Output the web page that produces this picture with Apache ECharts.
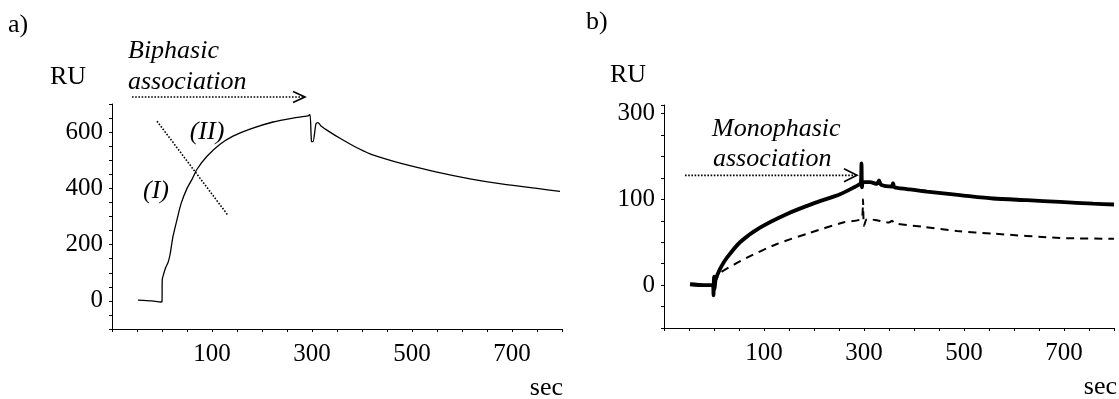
<!DOCTYPE html>
<html><head><meta charset="utf-8">
<script src="https://cdn.jsdelivr.net/npm/echarts@6/dist/echarts.min.js"></script>
<style>html,body{margin:0;padding:0;background:#fff}#c{width:1119px;height:399px}</style>
</head><body><div id="c"></div>
<script>
// ---- Panel a) biphasic association ----
const timeA = [-48, -20, -2, 0, 0.5, 4, 8, 12, 16, 22, 30, 38, 50, 60, 70, 90, 116, 142, 176, 222, 262, 292, 296, 299, 302, 308, 312, 318, 336, 356, 386, 416, 450, 482, 550, 616, 682, 750, 796];
const ruA   = [3, 0, -4, -3, 75, 100, 121, 136, 164, 229, 289, 345, 400, 432, 468, 514, 557, 586, 611, 636, 650, 658, 662, 567, 566, 630, 634, 622, 600, 578, 548, 523, 503, 487, 458, 434, 415, 400, 389];
// ---- Panel b) monophasic association ----
const timeBsolid = [-48, -20, -2, -1, 0, 1, 3, 6, 14, 26, 52, 92, 146, 198, 252, 280, 292, 294, 295, 296, 298, 312, 326, 330, 334, 356, 358, 361, 386, 426, 492, 558, 626, 692, 758, 800];
const ruBsolid   = [1, 0, 0, -12, 10, -5, 6, 11, 21, 32, 50, 67, 83, 95, 106, 114, 118, 121, 142, 114, 120, 120, 118, 122, 117, 115, 119, 114, 112, 109, 105, 101, 99, 97, 95, 94];
const timeBdash = [0, 4, 12, 40, 66, 126, 192, 258, 296, 298, 300, 306, 322, 350, 356, 362, 418, 486, 558, 692, 800];
const ruBdash   = [2, 6, 14, 24, 32, 48, 61, 73, 78, 100, 69, 77, 76, 73, 75, 72, 68, 63, 60, 55, 54];
// ---- tick labels ----
const xTickLabels = [100, 300, 500, 700];
const yTickLabelsA = [0, 200, 400, 600];
const yTickValuesB = [0, 100, 200];
const yTickTextB = ['0', '100', '300'];

const FONT = '"Liberation Serif", "Times New Roman", serif';
const zip = (a, b) => a.map((v, i) => [v, b[i]]);

function xAxisCfg(gi) {
  return {
    type: 'value', gridIndex: gi, min: -100, max: 800, interval: 50,
    axisLine: { show: true, onZero: false, lineStyle: { color: '#000', width: 1 } },
    axisTick: { show: true, length: 3, lineStyle: { color: '#000', width: 1 } },
    axisLabel: { formatter: v => xTickLabels.includes(v) ? String(v) : '', color: '#000', fontFamily: FONT, fontSize: 25, margin: 13 },
    splitLine: { show: false }
  };
}

const option = {
  animation: false,
  backgroundColor: '#fff',
  grid: [
    { left: 112, top: 104, width: 450, height: 225, outerBoundsMode: 'none' },
    { left: 664, top: 105, width: 450, height: 223, outerBoundsMode: 'none' }
  ],
  xAxis: [xAxisCfg(0), xAxisCfg(1)],
  yAxis: [
    {
      type: 'value', gridIndex: 0, min: -100, max: 700, interval: 50,
      axisLine: { show: true, onZero: false, lineStyle: { color: '#000', width: 1 } },
      axisTick: { show: true, length: 3, lineStyle: { color: '#000', width: 1 } },
      axisLabel: { formatter: v => yTickLabelsA.includes(v) ? String(v) : '', color: '#000', fontFamily: FONT, fontSize: 25, margin: 9 },
      splitLine: { show: false }
    },
    {
      type: 'value', gridIndex: 1, min: -50, max: 210, interval: 25,
      axisLine: { show: true, onZero: false, lineStyle: { color: '#000', width: 1 } },
      axisTick: { show: true, length: 3, lineStyle: { color: '#000', width: 1 } },
      axisLabel: { formatter: v => { const i = yTickValuesB.indexOf(v); return i >= 0 ? yTickTextB[i] : ''; }, color: '#000', fontFamily: FONT, fontSize: 25, margin: 9 },
      splitLine: { show: false }
    }
  ],
  series: [
    { type: 'line', xAxisIndex: 0, yAxisIndex: 0, data: zip(timeA, ruA), showSymbol: false, smooth: 0.25,
      lineStyle: { color: '#000', width: 1.3 } },
    { type: 'line', xAxisIndex: 1, yAxisIndex: 1, data: zip(timeBdash, ruBdash), showSymbol: false, smooth: 0.25,
      lineStyle: { color: '#000', width: 2, type: [8, 6] } },
    { type: 'line', xAxisIndex: 1, yAxisIndex: 1, data: zip(timeBsolid, ruBsolid), showSymbol: false, smooth: 0.25,
      lineStyle: { color: '#000', width: 3.8 } }
  ]
};

const chart = echarts.init(document.getElementById('c'));
chart.setOption(option);

const pA = p => chart.convertToPixel({ gridIndex: 0 }, p);
const pB = p => chart.convertToPixel({ gridIndex: 1 }, p);

function dotted(a, b) {
  return { type: 'polyline', silent: true, shape: { points: [a, b] },
    style: { stroke: '#000', lineWidth: 1.6, lineDash: [1.6, 1.6], fill: null } };
}
function chevron(tip, w, h) {
  return { type: 'polyline', silent: true, shape: { points: [[tip[0] - w, tip[1] - h], tip, [tip[0] - w, tip[1] + h]] },
    style: { stroke: '#000', lineWidth: 1.6, fill: null } };
}
function txt(t, x, y, italic, align) {
  return { type: 'text', silent: true, x: x, y: y,
    style: { text: t, font: (italic ? 'italic ' : '') + '26px ' + FONT, fill: '#000',
      textAlign: align || 'left', textVerticalAlign: 'middle' } };
}

const arrA0 = pA([-60, 725]), arrA1 = pA([286, 725]);
const arrB0 = pB([-58, 128]), arrB1 = pB([286, 128]);
const diag0 = pA([-10, 639]), diag1 = pA([132, 304]);

chart.setOption({
  graphic: [
    txt('a)', 8, 25, false),
    txt('b)', 586, 22, false),
    txt('RU', 50, 77, false),
    txt('RU', 610, 75, false),
    txt('sec', 563, 388, false, 'right'),
    txt('sec', 1117, 387, false, 'right'),
    txt('Biphasic', 128, 51, true),
    txt('association', 128, 82, true),
    txt('Monophasic', 712, 129, true),
    txt('association', 713, 159, true),
    txt('(I)', 156, 191, true, 'center'),
    txt('(II)', 207, 132, true, 'center'),
    dotted(arrA0, arrA1), chevron(arrA1, 12, 5.5),
    dotted(arrB0, arrB1), chevron(arrB1, 13, 6.5),
    dotted(diag0, diag1)
  ]
});
</script>
</body></html>
